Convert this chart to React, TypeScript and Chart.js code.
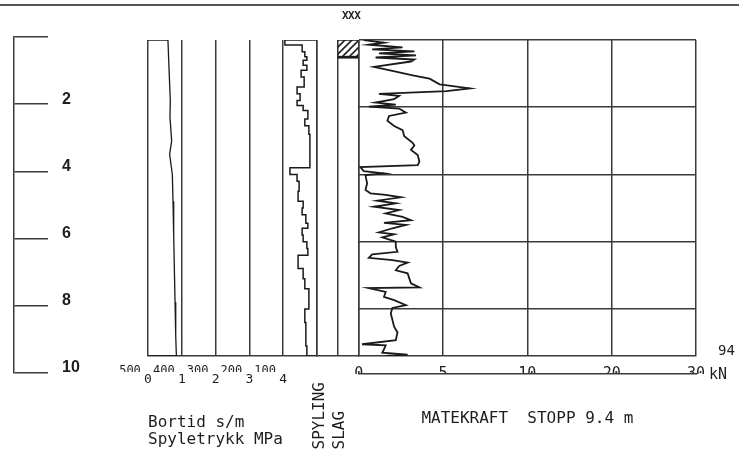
import React, { useEffect, useRef } from 'react';
import { Chart, registerables, LinearScale } from 'chart.js';

// ---------------- data ----------------
const STOP_DEPTH = 9.4;
const RULER_TICKS = [0, 2, 4, 6, 8, 10];
const DEPTH_GRID = [0, 2, 4, 6, 8];

const PRESSURE_TICKS = [0, 1, 2, 3, 4, 5];
const BORTID_TICKS = [0, 100, 200, 300, 400, 500];
const FORCE_TICKS = [0, 5, 10, 20, 30];

// Spyletrykk (MPa)
const pressureDepth = [0, 0.8, 1.8, 2.3, 3.0, 3.4, 4.0, 4.8, 5.8, 6.8, 7.8, 8.8, 9.4];
const pressureMPa = [0.59, 0.62, 0.66, 0.65, 0.7, 0.64, 0.72, 0.74, 0.76, 0.78, 0.8, 0.82, 0.84];

// Bortid (s/m)
const bortidDepth = [0, 0.15, 0.35, 0.5, 0.6, 0.75, 0.9, 1.1, 1.4, 1.6, 1.8, 1.95, 2.1, 2.35, 2.55, 2.8, 3.8, 4.0, 4.2, 4.5, 4.8, 5.0, 5.2, 5.45, 5.6, 5.8, 6.0, 6.2, 6.4, 6.6, 6.8, 7.1, 7.4, 7.7, 8.0, 8.4, 8.8, 9.1, 9.4];
const bortidSm = [95, 44, 36, 30, 41, 30, 47, 38, 59, 50, 59, 41, 27, 36, 24, 21, 80, 59, 53, 56, 41, 44, 33, 27, 44, 41, 30, 27, 56, 56, 41, 36, 24, 24, 36, 33, 33, 30, 33];

// Spyling / slag columns
const COLUMNS = ['SPYLING', 'SLAG'];
const columnFrom = [null, 0];
const columnTo = [null, 0.55];

// Matekraft (kN)
const forceDepth = [0, 0.08, 0.14, 0.22, 0.28, 0.34, 0.4, 0.46, 0.52, 0.58, 0.64, 0.8, 0.92, 1.05, 1.15, 1.32, 1.44, 1.52, 1.6, 1.66, 1.76, 1.86, 1.92, 1.98, 2.04, 2.16, 2.26, 2.4, 2.56, 2.68, 2.86, 3.06, 3.14, 3.27, 3.42, 3.62, 3.72, 3.78, 3.9, 3.97, 4.02, 4.27, 4.46, 4.56, 4.61, 4.68, 4.78, 4.86, 4.96, 5.06, 5.16, 5.26, 5.36, 5.44, 5.5, 5.6, 5.72, 5.78, 5.87, 6.0, 6.16, 6.3, 6.38, 6.48, 6.55, 6.62, 6.72, 6.85, 6.94, 7.09, 7.24, 7.36, 7.38, 7.49, 7.64, 7.74, 7.89, 7.97, 8.13, 8.33, 8.53, 8.7, 8.93, 9.05, 9.08, 9.2, 9.3, 9.36, 9.4];
const forceKN = [0.3, 1.5, 0.6, 2.6, 0.8, 3.3, 1.2, 3.4, 1.0, 3.3, 3.1, 0.9, 2.0, 3.2, 4.2, 4.8, 6.6, 5.2, 1.2, 2.4, 2.1, 1.0, 2.2, 0.6, 2.4, 2.8, 1.8, 1.7, 2.1, 2.6, 2.7, 3.2, 3.3, 3.1, 3.5, 3.6, 3.5, 0.1, 0.3, 1.5, 0.4, 0.5, 0.4, 0.7, 1.6, 2.5, 1.1, 2.2, 0.9, 2.4, 1.6, 2.6, 3.1, 1.5, 2.8, 2.0, 1.2, 2.1, 1.4, 2.2, 2.2, 2.3, 0.8, 0.6, 2.0, 2.9, 2.4, 2.2, 2.9, 3.0, 3.1, 3.6, 0.6, 1.6, 1.5, 2.1, 2.8, 2.0, 1.9, 2.0, 2.1, 2.3, 2.2, 0.2, 1.6, 1.5, 1.4, 2.9, 1.6];

const HOLE_ID = '94';
const TOP_TAG = 'XXX';
const FORCE_UNIT = 'kN';

// ---------------- styles ----------------
const W = 739;
const H = 461;
const INK = '#3a3a3a';
const CURVE = '#1a1a1a';
const TEXT = '#1e1e1e';
const MONO = "'DejaVu Sans Mono', 'Liberation Mono', monospace";
const SANS = "'Liberation Sans', Arial, sans-serif";

// piecewise axis 0-5-10-20-30 with equal spacing per interval
class BreakScale extends LinearScale {
  static id = 'breaks';
  static defaults = {};
  buildTicks() {
    return FORCE_TICKS.map((value) => ({ value }));
  }
  getPixelForValue(value: number) {
    const b = FORCE_TICKS;
    const n = b.length - 1;
    let i = 0;
    while (i < n - 1 && value > b[i + 1]) i++;
    const dec = (i + (value - b[i]) / (b[i + 1] - b[i])) / n;
    return this.getPixelForDecimal(dec);
  }
  getValueForPixel(pixel: number) {
    const b = FORCE_TICKS;
    const n = b.length - 1;
    const d = this.getDecimalForPixel(pixel) * n;
    const i = Math.max(0, Math.min(n - 1, Math.floor(d)));
    return b[i] + (d - i) * (b[i + 1] - b[i]);
  }
}

Chart.register(...registerables, BreakScale);

function closedProfile(depths: number[], values: number[]) {
  const pts = depths.map((d, i) => ({ x: values[i], y: d }));
  return [{ x: 0, y: depths[0] }, ...pts, { x: 0, y: depths[depths.length - 1] }];
}

function makeHatch() {
  const c = document.createElement('canvas');
  c.width = 7;
  c.height = 7;
  const g = c.getContext('2d')!;
  g.fillStyle = '#ffffff';
  g.fillRect(0, 0, 7, 7);
  g.strokeStyle = '#222';
  g.lineWidth = 1.6;
  g.beginPath();
  g.moveTo(-1, 8);
  g.lineTo(8, -1);
  g.stroke();
  g.beginPath();
  g.moveTo(-1, 1);
  g.lineTo(1, -1);
  g.stroke();
  g.beginPath();
  g.moveTo(6, 8);
  g.lineTo(8, 6);
  g.stroke();
  return g.createPattern(c, 'repeat');
}

const base = {
  animation: false as const,
  responsive: false,
  events: [] as any[],
  plugins: { legend: { display: false }, tooltip: { enabled: false }, title: { display: false } },
};

export default function App() {
  const rRuler = useRef<HTMLCanvasElement>(null);
  const rLeft = useRef<HTMLCanvasElement>(null);
  const rCols = useRef<HTMLCanvasElement>(null);
  const rMain = useRef<HTMLCanvasElement>(null);

  useEffect(() => {
    const charts: Chart[] = [];

    // depth ruler
    charts.push(
      new Chart(rRuler.current!, {
        type: 'scatter',
        data: { datasets: [] },
        options: {
          ...base,
          layout: { padding: { left: 0, right: 645, top: 37, bottom: 88 }, autoPadding: false },
          scales: {
            x: { display: false, min: 0, max: 1 },
            y: {
              position: 'right',
              reverse: true,
              min: 0,
              max: 10,
              afterBuildTicks: (s: any) => {
                s.ticks = RULER_TICKS.map((value) => ({ value }));
              },
              afterFit: (s: any) => {
                s.width = 80;
              },
              grid: { drawOnChartArea: false, drawTicks: true, tickLength: 34, color: INK, lineWidth: 1.5 },
              border: { display: true, color: INK, width: 1.5 },
              ticks: {
                padding: 14,
                labelOffset: -5,
                color: TEXT,
                font: { family: SANS, size: 16, weight: 'bold' },
                callback: (v: any) => (v === 0 ? '' : String(v)),
              },
            },
          },
        } as any,
      })
    );

    // bortid / spyletrykk panel
    charts.push(
      new Chart(rLeft.current!, {
        type: 'scatter',
        data: {
          datasets: [
            {
              data: closedProfile(pressureDepth, pressureMPa),
              xAxisID: 'xP',
              yAxisID: 'y',
              showLine: true,
              pointRadius: 0,
              borderColor: CURVE,
              borderWidth: 1.3,
              tension: 0,
            },
            {
              data: closedProfile(bortidDepth, bortidSm),
              xAxisID: 'xB',
              yAxisID: 'y',
              showLine: true,
              stepped: 'after',
              pointRadius: 0,
              borderColor: CURVE,
              borderWidth: 1.5,
            },
          ],
        },
        options: {
          ...base,
          layout: { padding: { left: 148, right: W - 317, top: 40, bottom: 0 }, autoPadding: false },
          scales: {
            y: { display: false, reverse: true, min: 0, max: STOP_DEPTH },
            xB: {
              type: 'linear',
              position: 'bottom',
              weight: 0,
              min: 0,
              max: 500,
              reverse: true,
              afterBuildTicks: (s: any) => {
                s.ticks = BORTID_TICKS.map((value) => ({ value }));
              },
              afterFit: (s: any) => {
                s.height = 16;
              },
              grid: { display: false, drawTicks: false },
              border: { display: true, color: INK, width: 1.5 },
              ticks: {
                padding: 8,
                labelOffset: -18,
                autoSkip: false,
                maxRotation: 0,
                color: TEXT,
                font: { family: MONO, size: 12 },
                callback: (v: any) => (v === 0 ? '' : String(v)),
              },
            },
            xP: {
              type: 'linear',
              position: 'bottom',
              weight: 1,
              min: 0,
              max: 5,
              afterBuildTicks: (s: any) => {
                s.ticks = PRESSURE_TICKS.map((value) => ({ value }));
              },
              afterFit: (s: any) => {
                s.height = 89;
              },
              grid: { display: true, drawOnChartArea: true, drawTicks: false, color: INK, lineWidth: 1.5 },
              border: { display: false },
              ticks: {
                padding: 0,
                autoSkip: false,
                maxRotation: 0,
                color: TEXT,
                font: { family: MONO, size: 13 },
                callback: (v: any) => (v === 5 ? '' : String(v)),
              },
              title: {
                display: true,
                text: ['Bortid s/m', 'Spyletrykk MPa'],
                align: 'start',
                color: TEXT,
                font: { family: MONO, size: 16, lineHeight: 1.1 },
                padding: { top: 0, bottom: 12 },
              },
            },
          },
        } as any,
      })
    );

    // spyling / slag columns
    charts.push(
      new Chart(rCols.current!, {
        type: 'bar',
        data: {
          labels: COLUMNS,
          datasets: [
            {
              data: COLUMNS.map((_, i) => (columnFrom[i] === null ? null : [columnFrom[i], columnTo[i]])),
              backgroundColor: makeHatch() as any,
              borderColor: '#1a1a1a',
              borderWidth: { top: 1, left: 1, right: 1, bottom: 3 },
              borderSkipped: false,
              barPercentage: 1,
              categoryPercentage: 1,
            },
          ],
        },
        options: {
          ...base,
          layout: { padding: { left: 317, right: W - 358.7, top: 40, bottom: 0 }, autoPadding: false },
          scales: {
            y: { display: false, reverse: true, min: 0, max: STOP_DEPTH },
            x: {
              type: 'category',
              offset: true,
              afterFit: (s: any) => {
                s.height = 105;
              },
              grid: { display: true, offset: true, drawTicks: false, color: INK, lineWidth: 1.5 },
              border: { display: true, color: INK, width: 1.5 },
              ticks: {
                autoSkip: false,
                minRotation: 90,
                maxRotation: 90,
                padding: 26,
                labelOffset: -8,
                color: TEXT,
                font: { family: MONO, size: 16 },
                callback: (_v: any, i: number) => COLUMNS[i].padEnd(7, ' '),
              },
            },
          },
        } as any,
      })
    );

    // matekraft
    charts.push(
      new Chart(rMain.current!, {
        type: 'scatter',
        data: {
          datasets: [
            {
              data: forceDepth.map((d, i) => ({ x: forceKN[i], y: d })),
              xAxisID: 'x',
              yAxisID: 'y',
              showLine: true,
              pointRadius: 0,
              borderColor: CURVE,
              borderWidth: 1.8,
              tension: 0,
            },
          ],
        },
        options: {
          ...base,
          layout: { padding: { left: 358.7, right: W - 696, top: 40, bottom: 0 }, autoPadding: false },
          scales: {
            y: {
              reverse: true,
              min: 0,
              max: STOP_DEPTH,
              afterBuildTicks: (s: any) => {
                s.ticks = DEPTH_GRID.map((value) => ({ value }));
              },
              afterFit: (s: any) => {
                s.width = 0;
              },
              grid: { color: INK, lineWidth: 1.5, drawTicks: false },
              border: { display: false },
              ticks: { display: false },
            },
            x: {
              type: 'breaks',
              position: 'bottom',
              weight: 0,
              min: 0,
              max: 30,
              afterFit: (s: any) => {
                s.height = 18;
              },
              grid: { color: INK, lineWidth: 1.5, drawTicks: false },
              border: { display: true, color: INK, width: 1.5 },
              ticks: {
                padding: 9,
                autoSkip: false,
                maxRotation: 0,
                color: TEXT,
                font: { family: MONO, size: 15 },
                callback: (v: any) => String(v),
              },
            },
            xLine: {
              type: 'breaks',
              position: 'bottom',
              weight: 1,
              min: 0,
              max: 30,
              afterFit: (s: any) => {
                s.height = 87;
              },
              grid: { display: false, drawTicks: false },
              border: { display: true, color: INK, width: 1.5 },
              ticks: { display: false },
              title: {
                display: true,
                text: `MATEKRAFT  STOPP ${STOP_DEPTH} m`,
                color: TEXT,
                font: { family: MONO, size: 16 },
                padding: { top: 0, bottom: 33 },
              },
            },
          },
        } as any,
      })
    );

    return () => charts.forEach((c) => c.destroy());
  }, []);

  const canvasStyle: React.CSSProperties = { position: 'absolute', left: 0, top: 0, width: W, height: H };
  const txt = (left: number, top: number, size: number, extra: React.CSSProperties = {}): React.CSSProperties => ({
    position: 'absolute',
    left,
    top,
    fontFamily: MONO,
    fontSize: size,
    lineHeight: 1,
    color: TEXT,
    whiteSpace: 'pre',
    ...extra,
  });

  return (
    <div style={{ position: 'fixed', left: 0, top: 0, width: W, height: H, background: '#fff', overflow: 'hidden' }}>
      <div style={{ position: 'absolute', left: 0, top: 4, width: W, height: 2, background: '#555' }} />
      <canvas ref={rRuler} width={W} height={H} style={canvasStyle} />
      <canvas ref={rLeft} width={W} height={H} style={canvasStyle} />
      <canvas ref={rCols} width={W} height={H} style={canvasStyle} />
      <canvas ref={rMain} width={W} height={H} style={canvasStyle} />
      <div style={txt(342, 10, 11, { fontWeight: 'bold', letterSpacing: -0.5 })}>{TOP_TAG}</div>
      <div style={txt(718, 343, 14)}>{HOLE_ID}</div>
      <div style={txt(709, 367, 15)}>{FORCE_UNIT}</div>
    </div>
  );
}
